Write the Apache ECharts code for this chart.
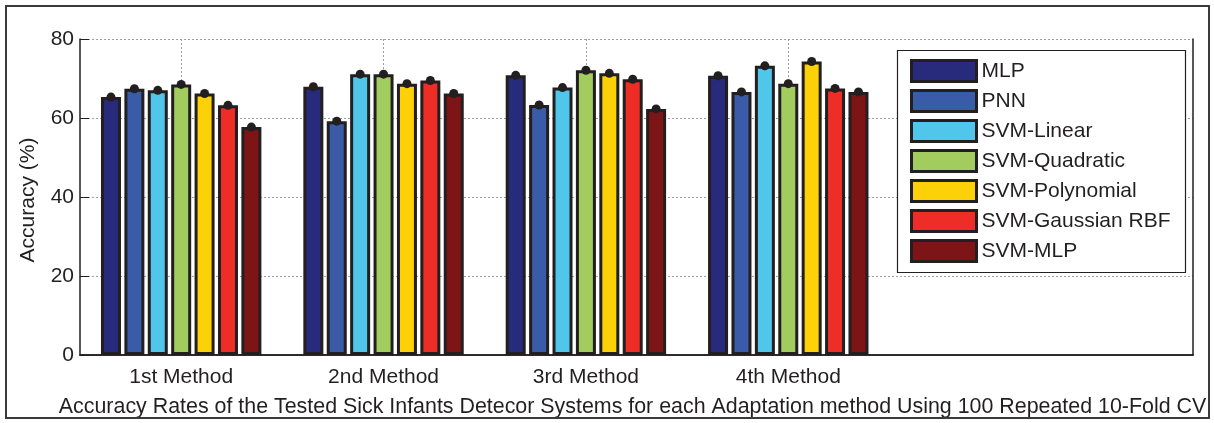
<!DOCTYPE html>
<html>
<head>
<meta charset="utf-8">
<script src="https://cdn.jsdelivr.net/npm/echarts@6/dist/echarts.min.js"></script>
<style>
  html, body { margin: 0; padding: 0; background: #ffffff; }
  #chart { width: 1214px; height: 423px; }
</style>
</head>
<body>
<div id="chart"></div>
<script>
// Accuracy (%) of each detector system for the four adaptation methods
const categories = ['1st Method', '2nd Method', '3rd Method', '4th Method'];
const seriesNames = ['MLP', 'PNN', 'SVM-Linear', 'SVM-Quadratic', 'SVM-Polynomial', 'SVM-Gaussian RBF', 'SVM-MLP'];

const mlp        = [65.3, 67.9, 70.8, 70.7];
const pnn        = [67.4, 59.2, 63.3, 66.6];
const svmLinear  = [67.0, 71.1, 67.7, 73.2];
const svmQuad    = [68.5, 71.1, 72.1, 68.7];
const svmPoly    = [66.2, 68.7, 71.3, 74.3];
const svmRbf     = [63.2, 69.5, 69.8, 67.5];
const svmMlp     = [57.7, 66.2, 62.3, 66.6];

const yTicks = [0, 20, 40, 60, 80];

const seriesValues = [mlp, pnn, svmLinear, svmQuad, svmPoly, svmRbf, svmMlp];
const colors = ['#282a7b', '#3a5ba8', '#4fc6ea', '#a2cd5e', '#fdd108', '#ee2d26', '#7d1416'];

const INK = '#231f20';
const FONT = '"Liberation Sans", Arial, Helvetica, sans-serif';
const GRID_LINE = { color: '#a0a0a0', width: 1, type: [2, 2] };

// group positions on the x axis: 1, 2, 3, 4
const groupPos = categories.map((c, k) => k + 1);

const chart = echarts.init(document.getElementById('chart'), null, { renderer: 'canvas' });

const series = seriesNames.map((name, i) => ({
  type: 'bar',
  name: name,
  xAxisIndex: 0,
  yAxisIndex: 0,
  data: groupPos.map((x, k) => [x, seriesValues[i][k]]),
  barWidth: 20,
  barGap: '17%',
  itemStyle: { color: colors[i], borderColor: INK, borderWidth: 3 },
  label: {
    show: true,
    position: 'top',
    distance: -4.5,
    formatter: '{d|}',
    lineHeight: 9,
    rich: { d: { width: 9, height: 9, lineHeight: 9, borderRadius: 4.5, backgroundColor: INK } }
  },
  emphasis: { disabled: true },
  animation: false
}));

chart.setOption({
  animation: false,
  backgroundColor: '#ffffff',
  textStyle: { fontFamily: FONT, color: INK },
  grid: { left: 80, right: 21, top: 39, bottom: 65, containLabel: false },
  xAxis: [
    {
      type: 'value',
      position: 'bottom',
      min: 0.5,
      max: 6,
      axisLine: { show: true, lineStyle: { color: INK, width: 1.5 } },
      axisTick: { show: true, inside: true, length: 8, customValues: groupPos, lineStyle: { color: INK } },
      axisLabel: {
        customValues: groupPos,
        formatter: v => categories[Math.round(v) - 1] || '',
        fontSize: 21, color: INK, fontFamily: FONT, margin: 12
      },
      splitLine: { show: true, lineStyle: GRID_LINE },
      name: 'Accuracy Rates of the Tested Sick Infants Detecor Systems for each Adaptation method Using 100 Repeated 10-Fold CV',
      nameLocation: 'middle',
      nameGap: 42,
      nameTextStyle: { fontSize: 21.4, color: INK, fontFamily: FONT, padding: [0, 8, 0, 0] }
    },
    {
      type: 'value',
      position: 'top',
      min: 0.5,
      max: 6,
      axisLine: { show: true, lineStyle: { color: INK, width: 1.5 } },
      axisTick: { show: false },
      axisLabel: { show: false },
      splitLine: { show: false }
    }
  ],
  yAxis: [
    {
      type: 'value',
      position: 'left',
      min: yTicks[0],
      max: yTicks[yTicks.length - 1],
      interval: yTicks[1] - yTicks[0],
      axisLine: { show: true, lineStyle: { color: INK, width: 1.5 } },
      axisTick: { show: true, inside: true, length: 9, lineStyle: { color: INK } },
      axisLabel: { fontSize: 21, color: INK, fontFamily: FONT, margin: 6 },
      splitLine: { show: true, lineStyle: GRID_LINE },
      name: 'Accuracy (%)',
      nameLocation: 'middle',
      nameRotate: 90,
      nameGap: 41,
      nameTextStyle: { fontSize: 21, color: INK, fontFamily: FONT, padding: [0, 6, 0, 0] }
    },
    {
      type: 'value',
      position: 'right',
      min: yTicks[0],
      max: yTicks[yTicks.length - 1],
      interval: yTicks[1] - yTicks[0],
      axisLine: { show: true, lineStyle: { color: INK, width: 1.5 } },
      axisTick: { show: false },
      axisLabel: { show: false },
      splitLine: { show: false }
    }
  ],
  legend: {
    orient: 'vertical',
    left: 910,
    top: 59,
    padding: 0,
    itemWidth: 65,
    itemHeight: 21,
    itemGap: 6,
    icon: 'rect',
    itemStyle: { borderColor: INK, borderWidth: 3 },
    textStyle: { fontSize: 21, color: INK, fontFamily: FONT, lineHeight: 21 },
    selectedMode: false,
    z: 20,
    data: seriesNames
  },
  graphic: [
    {
      // outer figure frame
      type: 'rect',
      z: 30,
      silent: true,
      shape: { x: 6, y: 6, width: 1203, height: 412 },
      style: { fill: null, stroke: '#3a3a3a', lineWidth: 2 }
    },
    {
      // legend box
      type: 'rect',
      z: 10,
      silent: true,
      shape: { x: 897.5, y: 50.5, width: 288, height: 222 },
      style: { fill: '#ffffff', stroke: INK, lineWidth: 1.2 }
    }
  ],
  series: series
});
</script>
</body>
</html>
